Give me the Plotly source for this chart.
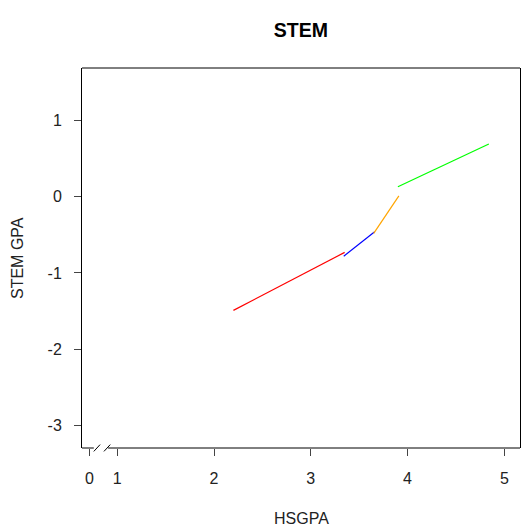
import plotly.graph_objects as go

# Fitted STEM GPA segments over high-school GPA bands
seg_names = ["band 1", "band 2", "band 3", "band 4"]
seg_colors = ["#FF0000", "#0000FF", "#FFA500", "#00FF00"]
seg_x = [[2.20, 3.35], [3.34, 3.66], [3.65, 3.91], [3.90, 4.84]]
seg_y = [[-1.49, -0.73], [-0.78, -0.46], [-0.48, 0.01], [0.13, 0.69]]

# Axis ticks; the "0" tick sits just left of the axis break
x_tickvals = [0.711, 1, 2, 3, 4, 5]
x_ticktext = ["0", "1", "2", "3", "4", "5"]
y_tickvals = [-3, -2, -1, 0, 1]
y_ticktext = ["-3", "-2", "-1", "0", "1"]

x_range = [0.635, 5.162]
y_range = [-3.294, 1.687]

FONT = "Liberation Sans, Arial, sans-serif"
INK = "#222222"

fig = go.Figure()
for name, col, xs, ys in zip(seg_names, seg_colors, seg_x, seg_y):
    fig.add_trace(go.Scatter(x=xs, y=ys, mode="lines", name=name,
                             line=dict(color=col, width=1.2),
                             showlegend=False, hoverinfo="skip"))

shapes = []
line_style = dict(color="#000000", width=1)
# top and bottom edges of the frame, with a slash break near the origin
shapes.append(dict(type="line", xref="paper", yref="paper", x0=0, x1=1, y0=1, y1=1, line=line_style))
brk_lo, brk_hi = 0.757, 0.925
shapes.append(dict(type="line", xref="x", yref="paper", x0=x_range[0], x1=brk_lo, y0=0, y1=0, line=line_style))
shapes.append(dict(type="line", xref="x", yref="paper", x0=brk_hi - 0.02, x1=x_range[1], y0=0, y1=0, line=line_style))
for sx in (brk_lo, brk_lo + 0.105):
    shapes.append(dict(type="line", xref="x", yref="paper", x0=sx, x1=sx + 0.065,
                       y0=-0.009, y1=0.009, line=line_style))

fig.update_layout(
    width=522, height=529,
    margin=dict(l=82, r=2, t=68, b=81),
    paper_bgcolor="white", plot_bgcolor="white",
    font=dict(family=FONT, size=16, color=INK),
    title=dict(text="<b>STEM</b>", x=0.5764, xanchor="center", y=0.943, yanchor="middle",
               font=dict(family=FONT, size=19.5, color="#000000")),
    shapes=shapes,
    annotations=[
        dict(text="HSGPA", xref="paper", yref="paper", x=0.5, y=0, yshift=-70,
             showarrow=False, xanchor="center", yanchor="middle",
             font=dict(family=FONT, size=16, color=INK)),
        dict(text="STEM GPA", xref="paper", yref="paper", x=0, y=0.5, xshift=-65,
             textangle=-90, showarrow=False, xanchor="center", yanchor="middle",
             font=dict(family=FONT, size=16, color=INK)),
    ],
)

fig.update_xaxes(range=x_range, showgrid=False, zeroline=False, showline=False,
                 tickmode="array", tickvals=x_tickvals, ticktext=x_ticktext,
                 ticks="outside", ticklen=7, tickcolor="#444444", tickwidth=1,
                 ticklabelstandoff=9)
fig.update_yaxes(range=y_range, showgrid=False, zeroline=False,
                 showline=True, linecolor="#000000", linewidth=1, mirror=True,
                 tickmode="array", tickvals=y_tickvals, ticktext=y_ticktext,
                 ticks="outside", ticklen=7, tickcolor="#444444", tickwidth=1,
                 ticklabelstandoff=9)

fig.write_html("out.html")
